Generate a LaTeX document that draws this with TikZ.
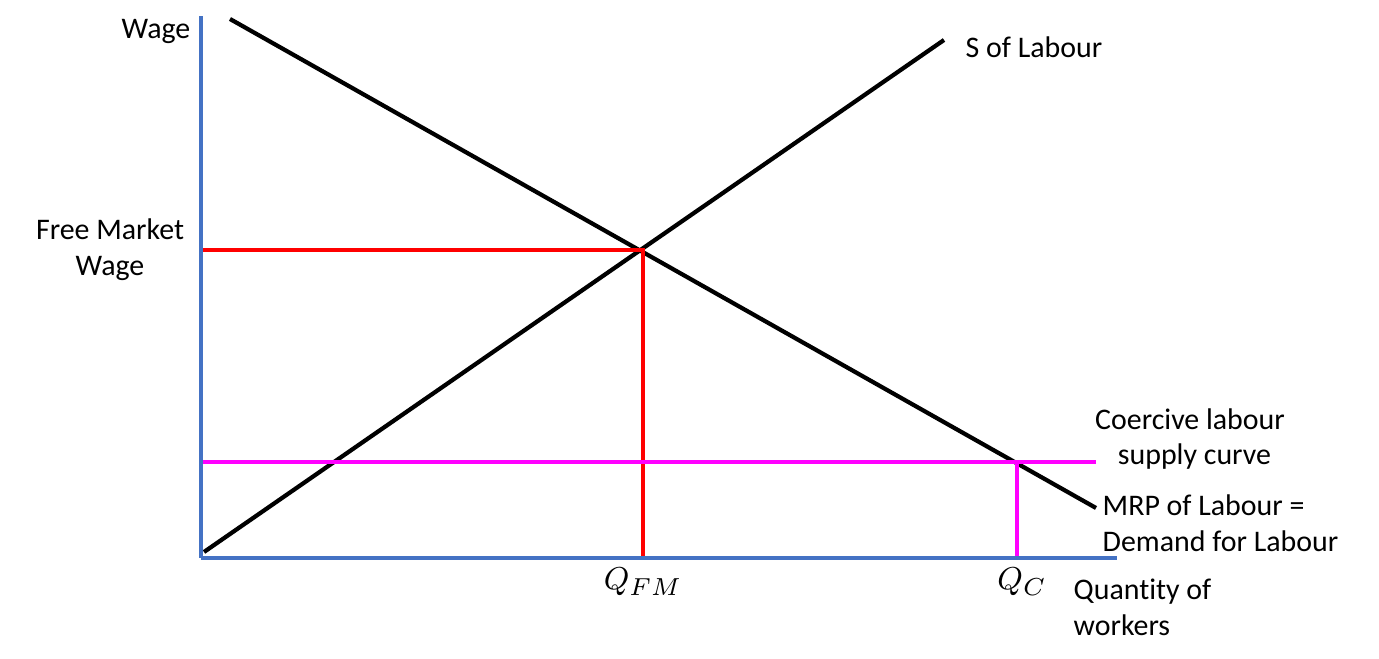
\documentclass[tikz,border=0pt]{standalone}
\usepackage{fontspec}
\setmainfont{Carlito}[Ligatures=NoCommon]
\definecolor{axisblue}{RGB}{68,114,196}
\definecolor{puremag}{RGB}{255,0,255}
\definecolor{purered}{RGB}{255,0,0}
\begin{document}
\begin{tikzpicture}[x=0.01cm,y=-0.01cm,
  lbl/.style={font=\fontsize{8.5}{10.2}\selectfont, inner sep=0pt, align=center},
  mlbl/.style={font=\fontsize{9.5}{11}\selectfont, inner sep=0pt},
  axisline/.style={draw=axisblue, line width=1.4pt},
  curve/.style={draw=black, line width=1.2pt},
  fmline/.style={draw=purered, line width=1.4pt},
  coline/.style={draw=puremag, line width=1.4pt}]
\useasboundingbox (0,0) rectangle (1379,659);
% coordinates
\coordinate (O) at (201,558);
\coordinate (Ytop) at (201,16);
\coordinate (Xend) at (1117,558);
\coordinate (D1) at (230,19);
\coordinate (D2) at (1096,508);
\coordinate (S1) at (204,552);
\coordinate (S2) at (944,40);
\coordinate (E) at (643,250);
\coordinate (Wfm) at (201,250);
\coordinate (Qfm) at (643,558);
\coordinate (Wc) at (201,462);
\coordinate (Cend) at (1096,462);
\coordinate (Cx) at (1017,462);
\coordinate (Qc) at (1017,558);
% curves
\draw[curve] (D1) -- (D2);
\draw[curve] (S1) -- (S2);
% free market lines
\draw[fmline] (Wfm) -- (E) -- (Qfm);
% coercive lines
\draw[coline] (Wc) -- (Cend);
\draw[coline] (Cx) -- (Qc);
% axes
\draw[axisline] (O) -- (Ytop);
\draw[axisline] (O) -- (Xend);
% labels
\node[lbl] (wage) at (156,31) {Wage};
\node[lbl] (fmw) at (110,250) {Free Market\\Wage};
\node[lbl, anchor=west] (sl) at (965,47) {S of Labour};
\node[lbl] (cls) at (1190,439) {Coercive labour\\\hspace{0.3em}supply curve};
\node[lbl, align=left, anchor=west] (mrp) at (1102,523) {MRP of Labour =\\Demand for Labour};
\node[lbl, align=left, anchor=west] (qw) at (1073,607) {Quantity of\\workers};
\node[mlbl] (qfml) at (643,582) {$Q_{FM}$};
\node[mlbl] (qcl) at (1022,582) {$Q_{C}$};
\end{tikzpicture}
\end{document}
